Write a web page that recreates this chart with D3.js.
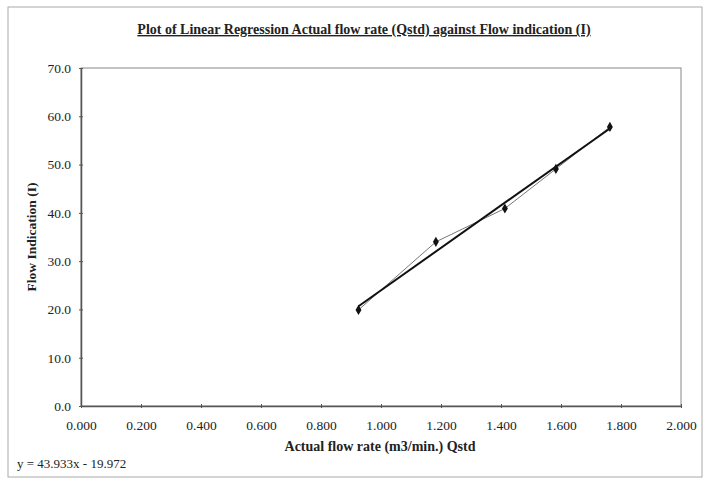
<!DOCTYPE html>
<html><head><meta charset="utf-8">
<script src="https://cdn.jsdelivr.net/npm/d3@7"></script>
<style>body{margin:0;background:#fff}svg{display:block}text{font-family:"Liberation Serif","Times New Roman",serif;fill:#222}</style>
</head><body>
<script>
const qstd = [0.925, 1.183, 1.413, 1.583, 1.763];
const flowInd = [19.9, 34.0, 40.9, 49.1, 57.8];
const slope = 43.933, intercept = -19.972;
const xTicks = [0,0.2,0.4,0.6,0.8,1.0,1.2,1.4,1.6,1.8,2.0];
const yTicks = [0,10,20,30,40,50,60,70];
const title = "Plot of Linear Regression Actual flow rate (Qstd) against Flow indication (I)";
const xLabel = "Actual flow rate (m3/min.) Qstd";
const yLabel = "Flow Indication (I)";
const eqText = "y = 43.933x - 19.972";

const W=707,H=480, m={l:81,r:26,t:68,b:74};
const svg=d3.select("body").append("svg").attr("width",W).attr("height",H);
svg.append("rect").attr("x",8).attr("y",7).attr("width",694).attr("height",470).attr("fill","none").attr("stroke","#aaa").attr("stroke-width",1);
const x=d3.scaleLinear().domain([0,2]).range([m.l,W-m.r]);
const y=d3.scaleLinear().domain([0,70]).range([H-m.b,m.t]);
svg.append("rect").attr("x",x(0)).attr("y",y(70)).attr("width",x(2)-x(0)).attr("height",y(0)-y(70)).attr("fill","none").attr("stroke","#888").attr("stroke-width",1);
const xa=svg.append("g").attr("transform",`translate(0,${y(0)})`).call(d3.axisBottom(x).tickValues(xTicks).tickFormat(d3.format(".3f")).tickSize(4).tickSizeOuter(0));
xa.selectAll("line").attr("transform","translate(0,-2)");
const ya=svg.append("g").attr("transform",`translate(${x(0)},0)`).call(d3.axisLeft(y).tickValues(yTicks).tickFormat(d3.format(".1f")).tickSize(4).tickSizeOuter(0));
ya.selectAll("line").attr("transform","translate(2,0)");
[xa,ya].forEach(a=>{a.select(".domain").attr("stroke","#555").attr("stroke-width",1.5);a.selectAll(".tick line").attr("stroke","#555");a.selectAll("text").attr("font-size",13.5).attr("font-family","Liberation Serif, serif").attr("fill","#333");});
xa.selectAll("text").attr("y",14).attr("dy","0.71em");
ya.selectAll("text").attr("dx","-3");
const pts=qstd.map((q,i)=>[q,flowInd[i]]);
svg.append("path").datum(pts).attr("d",d3.line().x(d=>x(d[0])).y(d=>y(d[1]))).attr("fill","none").attr("stroke","#777").attr("stroke-width",1);
const xr=d3.extent(qstd);
svg.append("line").attr("x1",x(xr[0])).attr("y1",y(slope*xr[0]+intercept)).attr("x2",x(xr[1])).attr("y2",y(slope*xr[1]+intercept)).attr("stroke","#111").attr("stroke-width",2);
svg.selectAll(".pt").data(pts).enter().append("path").attr("transform",d=>`translate(${x(d[0])},${y(d[1])})`).attr("d",d3.symbol(d3.symbolDiamond,30)).attr("fill","#111");
svg.append("text").attr("x",364).attr("y",34).attr("text-anchor","middle").attr("font-size",14).attr("font-weight","bold").attr("text-decoration","underline").text(title);
svg.append("text").attr("x",380).attr("y",451).attr("text-anchor","middle").attr("font-size",14).attr("font-weight","bold").text(xLabel);
svg.append("text").attr("transform",`translate(36,${(y(0)+y(70))/2})rotate(-90)`).attr("text-anchor","middle").attr("font-size",13.5).attr("font-weight","bold").text(yLabel);
svg.append("text").attr("x",17).attr("y",468).attr("font-size",13).text(eqText);
</script>
</body></html>
